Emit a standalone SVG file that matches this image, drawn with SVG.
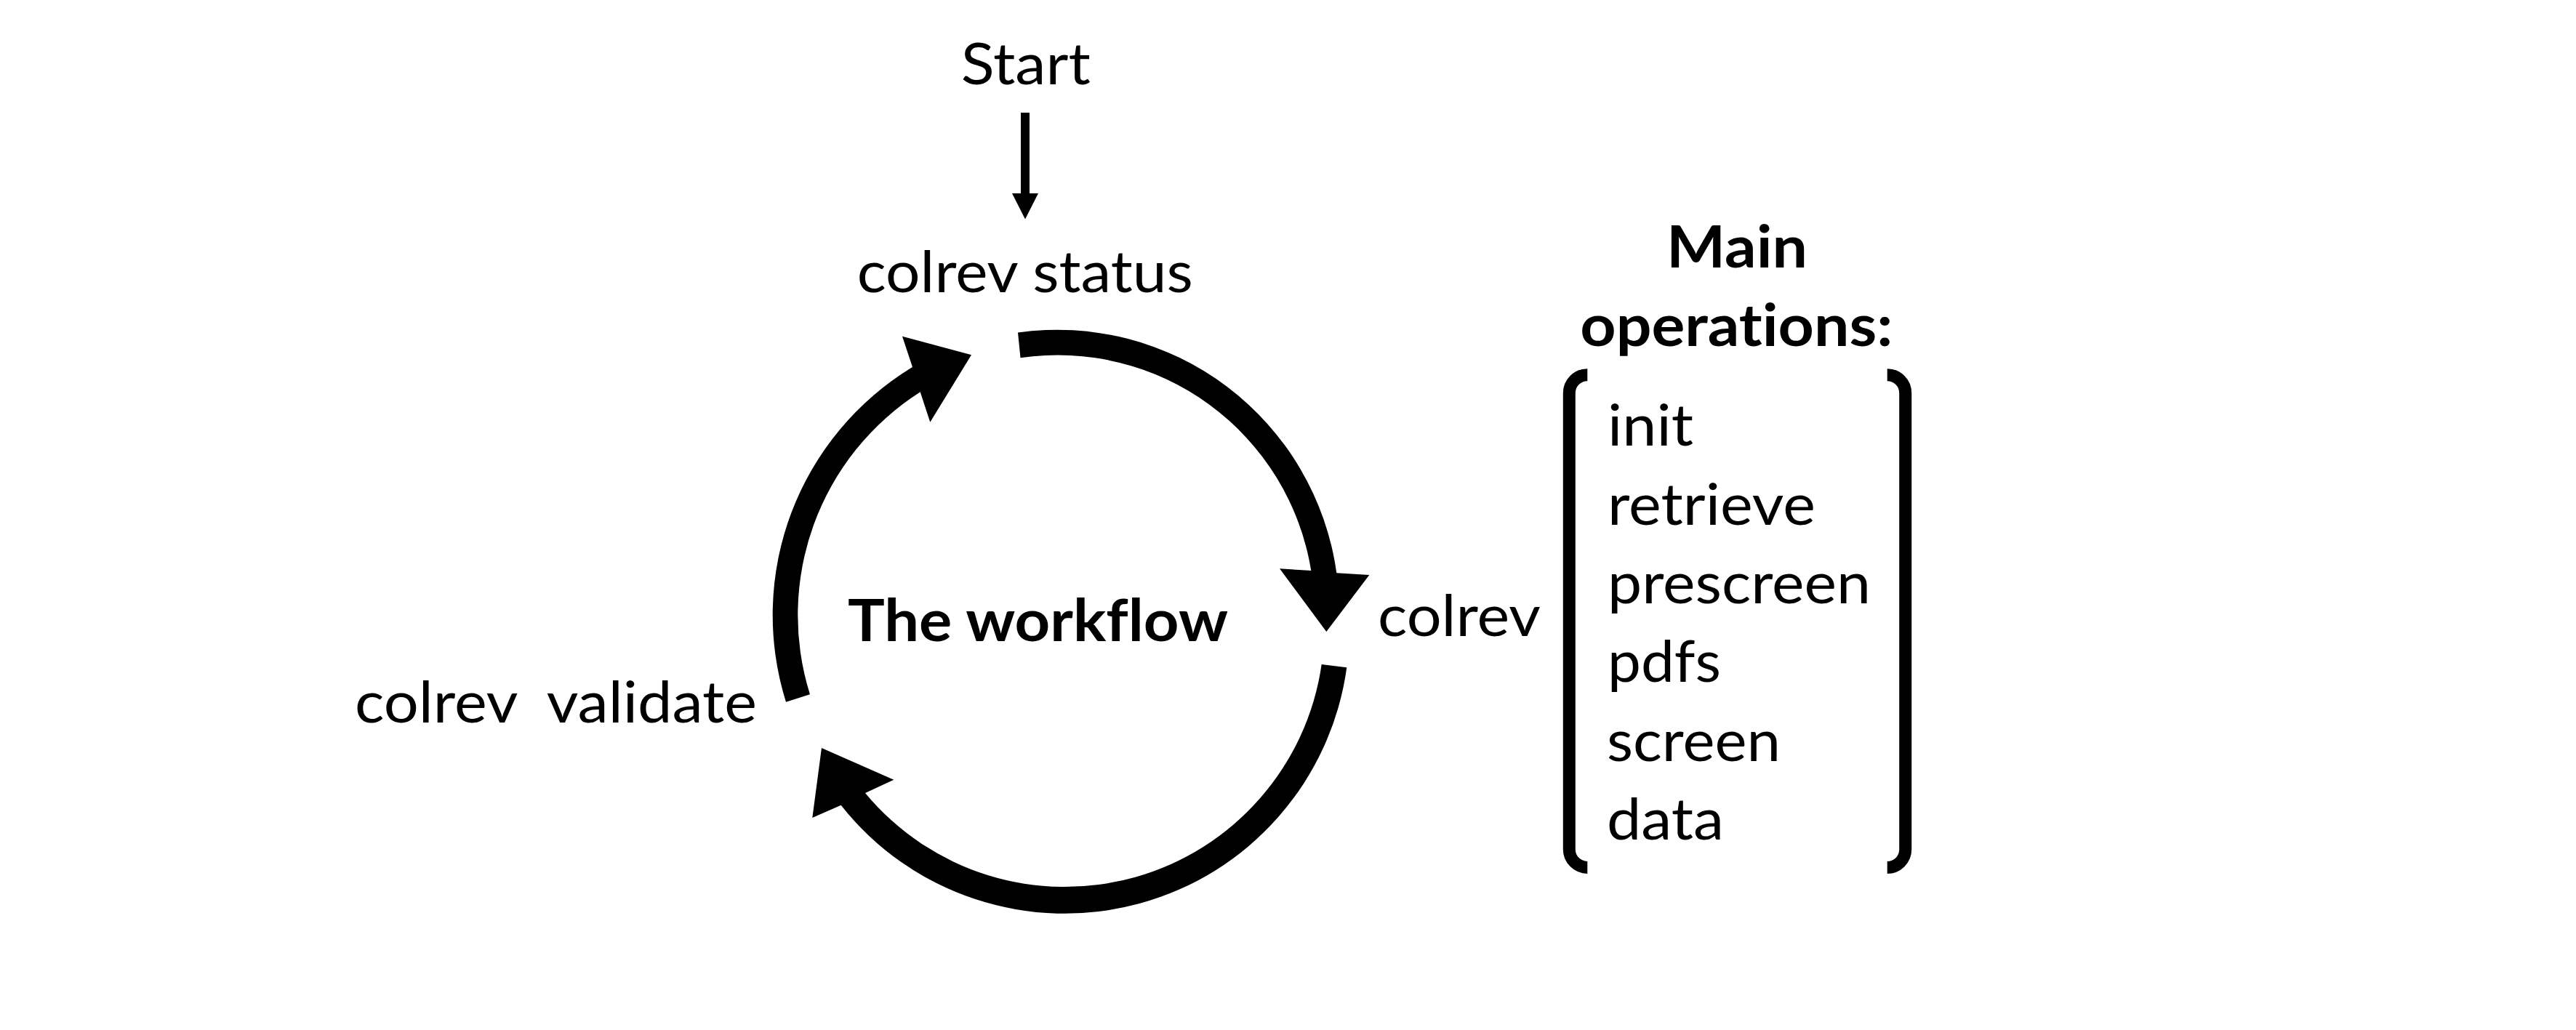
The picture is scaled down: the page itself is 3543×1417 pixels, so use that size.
<svg xmlns="http://www.w3.org/2000/svg" width="3543" height="1417" viewBox="0 0 3543 1417">
<style>
.t { font-family: Lato, "Noto Sans", "Liberation Sans", sans-serif; font-size: 80px; fill: #000; font-variant-ligatures: none; font-feature-settings: "liga" 0, "clig" 0, "dlig" 0; }
.b { font-weight: bold; }
.m { text-anchor: middle; }
.arrow { fill: #000; stroke: none; }
.shaft { stroke: #000; stroke-width: 12; fill: none; }
.br { fill: none; stroke: #000; stroke-width: 17; }
</style>
<rect x="0" y="0" width="3543" height="1417" fill="#fff"/>

<g id="connectors">
  <g id="start-arrow">
    <line class="shaft" x1="1410" y1="155" x2="1410" y2="268"/>
    <polygon class="arrow" points="1392,266 1428,266 1410,301.5"/>
  </g>
  <path id="cycle-status-to-colrev" class="arrow" d="M 1400 457.5 A 388 388 0 0 1 1838.3 788.3 L 1883.3 791 L 1824.3 869 L 1760 782.3 L 1803.3 785 A 353 353 0 0 0 1403.5 492.3 Z"/>
  <path id="cycle-colrev-to-validate" class="arrow" d="M 1852.3 918.3 A 391.7 391.7 0 0 1 1156.7 1107.7 L 1117.3 1125 L 1130 1029 L 1229.3 1072.7 L 1190 1091 A 356.7 356.7 0 0 0 1817.7 914 Z"/>
  <path id="cycle-validate-to-status" class="arrow" d="M 1081 965.7 A 399 399 0 0 1 1255 505 L 1241 462.7 L 1336 488.3 L 1279.3 580.7 L 1265.7 539.3 A 364 364 0 0 0 1114 955.3 Z"/>
</g>

<g id="node-start">
  <text class="t m" x="1410.8" y="116" textLength="178" lengthAdjust="spacingAndGlyphs">Start</text>
</g>
<g id="node-status">
  <text class="t m" x="1409.8" y="402" textLength="462" lengthAdjust="spacingAndGlyphs">colrev status</text>
</g>
<g id="node-colrev">
  <text class="t" x="1895" y="875" textLength="224" lengthAdjust="spacingAndGlyphs">colrev</text>
</g>
<g id="node-validate">
  <text class="t" x="488" y="994" textLength="553" lengthAdjust="spacingAndGlyphs" xml:space="preserve" style="white-space:pre">colrev  validate</text>
</g>
<g id="node-workflow">
  <text class="t b" x="1166" y="882" textLength="523" lengthAdjust="spacingAndGlyphs">The workflow</text>
</g>
<g id="node-operations">
  <text class="t b m" x="2389" y="368" textLength="194" lengthAdjust="spacingAndGlyphs">Main</text>
  <text class="t b m" x="2388.3" y="476" textLength="430" lengthAdjust="spacingAndGlyphs">operations:</text>
  <path class="br" d="M 2183.3 515.7 A 25 25 0 0 0 2158.3 540.7 L 2158.3 1168.4 A 25 25 0 0 0 2183.3 1193.4"/>
  <path class="br" d="M 2595.7 515.7 A 25 25 0 0 1 2620.7 540.7 L 2620.7 1168.6 A 25 25 0 0 1 2595.7 1193.6"/>
  <text class="t" x="2211" y="613" textLength="118" lengthAdjust="spacingAndGlyphs">init</text>
  <text class="t" x="2211" y="721.7" textLength="286" lengthAdjust="spacingAndGlyphs">retrieve</text>
  <text class="t" x="2211" y="830" textLength="362" lengthAdjust="spacingAndGlyphs">prescreen</text>
  <text class="t" x="2211" y="938.3" textLength="156" lengthAdjust="spacingAndGlyphs">pdfs</text>
  <text class="t" x="2210" y="1046.7" textLength="239" lengthAdjust="spacingAndGlyphs">screen</text>
  <text class="t" x="2210" y="1155" textLength="161" lengthAdjust="spacingAndGlyphs">data</text>
</g>
</svg>
